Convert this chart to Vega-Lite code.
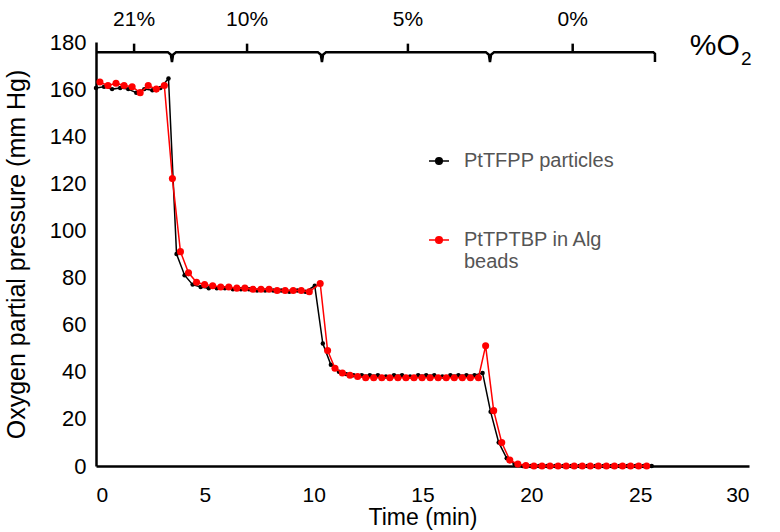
{
  "$schema": "https://vega.github.io/schema/vega-lite/v6.json",
  "width": 653,
  "height": 424,
  "autosize": "none",
  "padding": {"left": 96, "top": 42, "right": 31, "bottom": 66},
  "config": {
    "font": "Liberation Sans",
    "view": {"stroke": null},
    "axis": {"grid": false, "ticks": false, "domainColor": "black", "domainWidth": 2.5, "labelColor": "black", "titleColor": "black", "labelFont": "Liberation Sans", "titleFont": "Liberation Sans", "titleFontWeight": "normal", "titleLimit": 1000}
  },
  "datasets": {
    "series": [
      {"s": "PtTFPP particles", "t": 0.00, "v": 160.5},
      {"s": "PtTFPP particles", "t": 0.37, "v": 161},
      {"s": "PtTFPP particles", "t": 0.74, "v": 160},
      {"s": "PtTFPP particles", "t": 1.11, "v": 160.5},
      {"s": "PtTFPP particles", "t": 1.48, "v": 160},
      {"s": "PtTFPP particles", "t": 1.85, "v": 158.5},
      {"s": "PtTFPP particles", "t": 2.22, "v": 160},
      {"s": "PtTFPP particles", "t": 2.59, "v": 159.5},
      {"s": "PtTFPP particles", "t": 2.96, "v": 160.5},
      {"s": "PtTFPP particles", "t": 3.33, "v": 164.5},
      {"s": "PtTFPP particles", "t": 3.70, "v": 90},
      {"s": "PtTFPP particles", "t": 4.07, "v": 81},
      {"s": "PtTFPP particles", "t": 4.44, "v": 77},
      {"s": "PtTFPP particles", "t": 4.81, "v": 76},
      {"s": "PtTFPP particles", "t": 5.18, "v": 75.5},
      {"s": "PtTFPP particles", "t": 5.55, "v": 75.5},
      {"s": "PtTFPP particles", "t": 5.92, "v": 75.5},
      {"s": "PtTFPP particles", "t": 6.29, "v": 75},
      {"s": "PtTFPP particles", "t": 6.66, "v": 75},
      {"s": "PtTFPP particles", "t": 7.03, "v": 75},
      {"s": "PtTFPP particles", "t": 7.40, "v": 74.5},
      {"s": "PtTFPP particles", "t": 7.77, "v": 74.5},
      {"s": "PtTFPP particles", "t": 8.14, "v": 74.5},
      {"s": "PtTFPP particles", "t": 8.51, "v": 74.5},
      {"s": "PtTFPP particles", "t": 8.88, "v": 74},
      {"s": "PtTFPP particles", "t": 9.25, "v": 74.5},
      {"s": "PtTFPP particles", "t": 9.62, "v": 74},
      {"s": "PtTFPP particles", "t": 10.05, "v": 76.5},
      {"s": "PtTFPP particles", "t": 10.42, "v": 52},
      {"s": "PtTFPP particles", "t": 10.79, "v": 43},
      {"s": "PtTFPP particles", "t": 11.16, "v": 40},
      {"s": "PtTFPP particles", "t": 11.50, "v": 39},
      {"s": "PtTFPP particles", "t": 11.84, "v": 38.5},
      {"s": "PtTFPP particles", "t": 12.21, "v": 38.5},
      {"s": "PtTFPP particles", "t": 12.58, "v": 38.5},
      {"s": "PtTFPP particles", "t": 12.95, "v": 38.5},
      {"s": "PtTFPP particles", "t": 13.32, "v": 38},
      {"s": "PtTFPP particles", "t": 13.69, "v": 38.5},
      {"s": "PtTFPP particles", "t": 14.06, "v": 38.5},
      {"s": "PtTFPP particles", "t": 14.43, "v": 38},
      {"s": "PtTFPP particles", "t": 14.80, "v": 38.5},
      {"s": "PtTFPP particles", "t": 15.17, "v": 38.5},
      {"s": "PtTFPP particles", "t": 15.54, "v": 38.5},
      {"s": "PtTFPP particles", "t": 15.91, "v": 38},
      {"s": "PtTFPP particles", "t": 16.28, "v": 38.5},
      {"s": "PtTFPP particles", "t": 16.65, "v": 38.5},
      {"s": "PtTFPP particles", "t": 17.02, "v": 38.5},
      {"s": "PtTFPP particles", "t": 17.39, "v": 38.5},
      {"s": "PtTFPP particles", "t": 17.76, "v": 39.5},
      {"s": "PtTFPP particles", "t": 18.13, "v": 23},
      {"s": "PtTFPP particles", "t": 18.50, "v": 10},
      {"s": "PtTFPP particles", "t": 18.87, "v": 3.3},
      {"s": "PtTFPP particles", "t": 19.24, "v": 0.7},
      {"s": "PtTFPP particles", "t": 19.61, "v": 0},
      {"s": "PtTFPP particles", "t": 19.98, "v": 0},
      {"s": "PtTFPP particles", "t": 20.35, "v": 0},
      {"s": "PtTFPP particles", "t": 20.72, "v": 0},
      {"s": "PtTFPP particles", "t": 21.09, "v": 0},
      {"s": "PtTFPP particles", "t": 21.46, "v": 0},
      {"s": "PtTFPP particles", "t": 21.83, "v": 0},
      {"s": "PtTFPP particles", "t": 22.20, "v": 0},
      {"s": "PtTFPP particles", "t": 22.57, "v": 0},
      {"s": "PtTFPP particles", "t": 22.94, "v": 0},
      {"s": "PtTFPP particles", "t": 23.31, "v": 0},
      {"s": "PtTFPP particles", "t": 23.68, "v": 0},
      {"s": "PtTFPP particles", "t": 24.05, "v": 0},
      {"s": "PtTFPP particles", "t": 24.42, "v": 0},
      {"s": "PtTFPP particles", "t": 24.79, "v": 0},
      {"s": "PtTFPP particles", "t": 25.16, "v": 0},
      {"s": "PtTFPP particles", "t": 25.53, "v": 0},
      {"s": "PtTPTBP in Alg beads", "t": 0.18, "v": 163},
      {"s": "PtTPTBP in Alg beads", "t": 0.55, "v": 161.5},
      {"s": "PtTPTBP in Alg beads", "t": 0.92, "v": 162.5},
      {"s": "PtTPTBP in Alg beads", "t": 1.29, "v": 161.5},
      {"s": "PtTPTBP in Alg beads", "t": 1.66, "v": 161},
      {"s": "PtTPTBP in Alg beads", "t": 2.03, "v": 158.5},
      {"s": "PtTPTBP in Alg beads", "t": 2.40, "v": 161.5},
      {"s": "PtTPTBP in Alg beads", "t": 2.77, "v": 160},
      {"s": "PtTPTBP in Alg beads", "t": 3.14, "v": 161.5},
      {"s": "PtTPTBP in Alg beads", "t": 3.51, "v": 122},
      {"s": "PtTPTBP in Alg beads", "t": 3.88, "v": 91},
      {"s": "PtTPTBP in Alg beads", "t": 4.25, "v": 82},
      {"s": "PtTPTBP in Alg beads", "t": 4.62, "v": 78},
      {"s": "PtTPTBP in Alg beads", "t": 4.99, "v": 77},
      {"s": "PtTPTBP in Alg beads", "t": 5.36, "v": 76.5},
      {"s": "PtTPTBP in Alg beads", "t": 5.73, "v": 76},
      {"s": "PtTPTBP in Alg beads", "t": 6.10, "v": 76},
      {"s": "PtTPTBP in Alg beads", "t": 6.47, "v": 75.5},
      {"s": "PtTPTBP in Alg beads", "t": 6.84, "v": 75.5},
      {"s": "PtTPTBP in Alg beads", "t": 7.21, "v": 75},
      {"s": "PtTPTBP in Alg beads", "t": 7.58, "v": 75},
      {"s": "PtTPTBP in Alg beads", "t": 7.95, "v": 75},
      {"s": "PtTPTBP in Alg beads", "t": 8.32, "v": 74.5},
      {"s": "PtTPTBP in Alg beads", "t": 8.69, "v": 74.5},
      {"s": "PtTPTBP in Alg beads", "t": 9.06, "v": 74.5},
      {"s": "PtTPTBP in Alg beads", "t": 9.43, "v": 74.5},
      {"s": "PtTPTBP in Alg beads", "t": 9.80, "v": 74},
      {"s": "PtTPTBP in Alg beads", "t": 10.30, "v": 77.5},
      {"s": "PtTPTBP in Alg beads", "t": 10.64, "v": 49},
      {"s": "PtTPTBP in Alg beads", "t": 10.98, "v": 41.5},
      {"s": "PtTPTBP in Alg beads", "t": 11.32, "v": 39.5},
      {"s": "PtTPTBP in Alg beads", "t": 11.67, "v": 38.5},
      {"s": "PtTPTBP in Alg beads", "t": 12.02, "v": 38},
      {"s": "PtTPTBP in Alg beads", "t": 12.39, "v": 37.5},
      {"s": "PtTPTBP in Alg beads", "t": 12.76, "v": 37.5},
      {"s": "PtTPTBP in Alg beads", "t": 13.13, "v": 37.5},
      {"s": "PtTPTBP in Alg beads", "t": 13.50, "v": 37.5},
      {"s": "PtTPTBP in Alg beads", "t": 13.87, "v": 37.5},
      {"s": "PtTPTBP in Alg beads", "t": 14.24, "v": 37.5},
      {"s": "PtTPTBP in Alg beads", "t": 14.61, "v": 37.5},
      {"s": "PtTPTBP in Alg beads", "t": 14.98, "v": 37.5},
      {"s": "PtTPTBP in Alg beads", "t": 15.35, "v": 37.5},
      {"s": "PtTPTBP in Alg beads", "t": 15.72, "v": 37.5},
      {"s": "PtTPTBP in Alg beads", "t": 16.09, "v": 37.5},
      {"s": "PtTPTBP in Alg beads", "t": 16.46, "v": 37.5},
      {"s": "PtTPTBP in Alg beads", "t": 16.83, "v": 37.5},
      {"s": "PtTPTBP in Alg beads", "t": 17.20, "v": 37.5},
      {"s": "PtTPTBP in Alg beads", "t": 17.57, "v": 37.5},
      {"s": "PtTPTBP in Alg beads", "t": 17.90, "v": 51},
      {"s": "PtTPTBP in Alg beads", "t": 18.27, "v": 23.5},
      {"s": "PtTPTBP in Alg beads", "t": 18.64, "v": 10},
      {"s": "PtTPTBP in Alg beads", "t": 19.01, "v": 2.5},
      {"s": "PtTPTBP in Alg beads", "t": 19.38, "v": 0.8},
      {"s": "PtTPTBP in Alg beads", "t": 19.75, "v": 0.2},
      {"s": "PtTPTBP in Alg beads", "t": 20.12, "v": 0},
      {"s": "PtTPTBP in Alg beads", "t": 20.49, "v": 0},
      {"s": "PtTPTBP in Alg beads", "t": 20.86, "v": 0},
      {"s": "PtTPTBP in Alg beads", "t": 21.23, "v": 0},
      {"s": "PtTPTBP in Alg beads", "t": 21.60, "v": 0},
      {"s": "PtTPTBP in Alg beads", "t": 21.97, "v": 0},
      {"s": "PtTPTBP in Alg beads", "t": 22.34, "v": 0},
      {"s": "PtTPTBP in Alg beads", "t": 22.71, "v": 0},
      {"s": "PtTPTBP in Alg beads", "t": 23.08, "v": 0},
      {"s": "PtTPTBP in Alg beads", "t": 23.45, "v": 0},
      {"s": "PtTPTBP in Alg beads", "t": 23.82, "v": 0},
      {"s": "PtTPTBP in Alg beads", "t": 24.19, "v": 0},
      {"s": "PtTPTBP in Alg beads", "t": 24.56, "v": 0},
      {"s": "PtTPTBP in Alg beads", "t": 24.93, "v": 0},
      {"s": "PtTPTBP in Alg beads", "t": 25.30, "v": 0}
    ],
    "brace": [
      {"o": 0, "t": 0, "v": 175.7},
      {"o": 1, "t": 3.30, "v": 175.7},
      {"o": 2, "t": 3.44, "v": 174.6},
      {"o": 3, "t": 3.49, "v": 171.5},
      {"o": 4, "t": 3.54, "v": 174.6},
      {"o": 5, "t": 3.68, "v": 175.7},
      {"o": 6, "t": 10.19, "v": 175.7},
      {"o": 7, "t": 10.33, "v": 174.6},
      {"o": 8, "t": 10.38, "v": 171.5},
      {"o": 9, "t": 10.43, "v": 174.6},
      {"o": 10, "t": 10.57, "v": 175.7},
      {"o": 11, "t": 17.91, "v": 175.7},
      {"o": 12, "t": 18.05, "v": 174.6},
      {"o": 13, "t": 18.10, "v": 171.5},
      {"o": 14, "t": 18.15, "v": 174.6},
      {"o": 15, "t": 18.29, "v": 175.7},
      {"o": 16, "t": 25.60, "v": 175.7},
      {"o": 17, "t": 25.68, "v": 175.0},
      {"o": 18, "t": 25.68, "v": 171.5}
    ],
    "labels": [
      {"t": 1.75, "label": "21%"},
      {"t": 6.94, "label": "10%"},
      {"t": 14.33, "label": "5%"},
      {"t": 21.9, "label": "0%"}
    ]
  },
  "layer": [
    {
      "data": {"name": "series"},
      "transform": [{"filter": "datum.s == 'PtTFPP particles'"}],
      "mark": {"type": "line", "strokeWidth": 1.5},
      "encoding": {
        "x": {"field": "t", "type": "quantitative", "scale": {"domain": [0, 30], "nice": false},
              "axis": {"values": [0, 5, 10, 15, 20, 25, 30], "labelFontSize": 21, "labelPadding": 18, "title": "Time (min)", "titleFontSize": 23, "titlePadding": 1}},
        "y": {"field": "v", "type": "quantitative", "scale": {"domain": [0, 180], "nice": false},
              "axis": {"values": [0, 20, 40, 60, 80, 100, 120, 140, 160, 180], "labelFontSize": 22, "labelPadding": 10, "title": "Oxygen partial pressure (mm Hg)", "titleFontSize": 25, "titlePadding": 20}},
        "stroke": {"field": "s", "type": "nominal", "title": null,
                   "scale": {"domain": ["PtTFPP particles", "PtTPTBP in Alg beads"], "range": ["#000000", "#ff0000"]},
                   "legend": {"orient": "none", "legendX": 332, "legendY": 108, "padding": 0, "labelFontSize": 20, "labelColor": "#555555", "labelFont": "Liberation Sans", "symbolType": "M-1,0H1M-0.33,0A0.33,0.33,0,1,1,0.33,0A0.33,0.33,0,1,1,-0.33,0Z", "symbolSize": 400, "symbolStrokeWidth": 1.5, "labelOffset": 14, "rowPadding": 58, "labelExpr": "datum.label == 'PtTPTBP in Alg beads' ? ['PtTPTBP in Alg', 'beads'] : datum.label"}}
      }
    },
    {
      "data": {"name": "series"},
      "transform": [{"filter": "datum.s == 'PtTFPP particles'"}],
      "mark": {"type": "point", "filled": true, "size": 20, "opacity": 1},
      "encoding": {
        "x": {"field": "t", "type": "quantitative"},
        "y": {"field": "v", "type": "quantitative"},
        "fill": {"field": "s", "type": "nominal", "title": null,
                 "scale": {"domain": ["PtTFPP particles", "PtTPTBP in Alg beads"], "range": ["#000000", "#ff0000"]}}
      }
    },
    {
      "data": {"name": "series"},
      "transform": [{"filter": "datum.s == 'PtTPTBP in Alg beads'"}],
      "mark": {"type": "line", "strokeWidth": 1.5},
      "encoding": {
        "x": {"field": "t", "type": "quantitative"},
        "y": {"field": "v", "type": "quantitative"},
        "stroke": {"field": "s", "type": "nominal", "title": null}
      }
    },
    {
      "data": {"name": "series"},
      "transform": [{"filter": "datum.s == 'PtTPTBP in Alg beads'"}],
      "mark": {"type": "point", "filled": true, "size": 50, "opacity": 1},
      "encoding": {
        "x": {"field": "t", "type": "quantitative"},
        "y": {"field": "v", "type": "quantitative"},
        "fill": {"field": "s", "type": "nominal", "title": null}
      }
    },
    {
      "data": {"name": "brace"},
      "mark": {"type": "line", "color": "black", "strokeWidth": 2.5, "clip": false},
      "encoding": {
        "x": {"field": "t", "type": "quantitative"},
        "y": {"field": "v", "type": "quantitative"},
        "order": {"field": "o", "type": "quantitative"}
      }
    },
    {
      "data": {"name": "labels"},
      "mark": {"type": "rule", "color": "black", "strokeWidth": 2.5},
      "encoding": {
        "x": {"field": "t", "type": "quantitative"},
        "y": {"datum": 175.7},
        "y2": {"datum": 179.3}
      }
    },
    {
      "data": {"name": "labels"},
      "mark": {"type": "text", "fontSize": 21, "color": "black", "baseline": "middle", "align": "center"},
      "encoding": {
        "x": {"field": "t", "type": "quantitative"},
        "y": {"datum": 189.5},
        "text": {"field": "label"}
      }
    },
    {
      "data": {"values": [{"t": 29.58, "v": 178.5, "label": "%O"}]},
      "mark": {"type": "text", "fontSize": 30, "color": "black", "baseline": "middle", "align": "right"},
      "encoding": {
        "x": {"field": "t", "type": "quantitative"},
        "y": {"field": "v", "type": "quantitative"},
        "text": {"field": "label"}
      }
    },
    {
      "data": {"values": [{"t": 29.63, "v": 172.8, "label": "2"}]},
      "mark": {"type": "text", "fontSize": 19, "color": "black", "baseline": "middle", "align": "left"},
      "encoding": {
        "x": {"field": "t", "type": "quantitative"},
        "y": {"field": "v", "type": "quantitative"},
        "text": {"field": "label"}
      }
    }
  ]
}
